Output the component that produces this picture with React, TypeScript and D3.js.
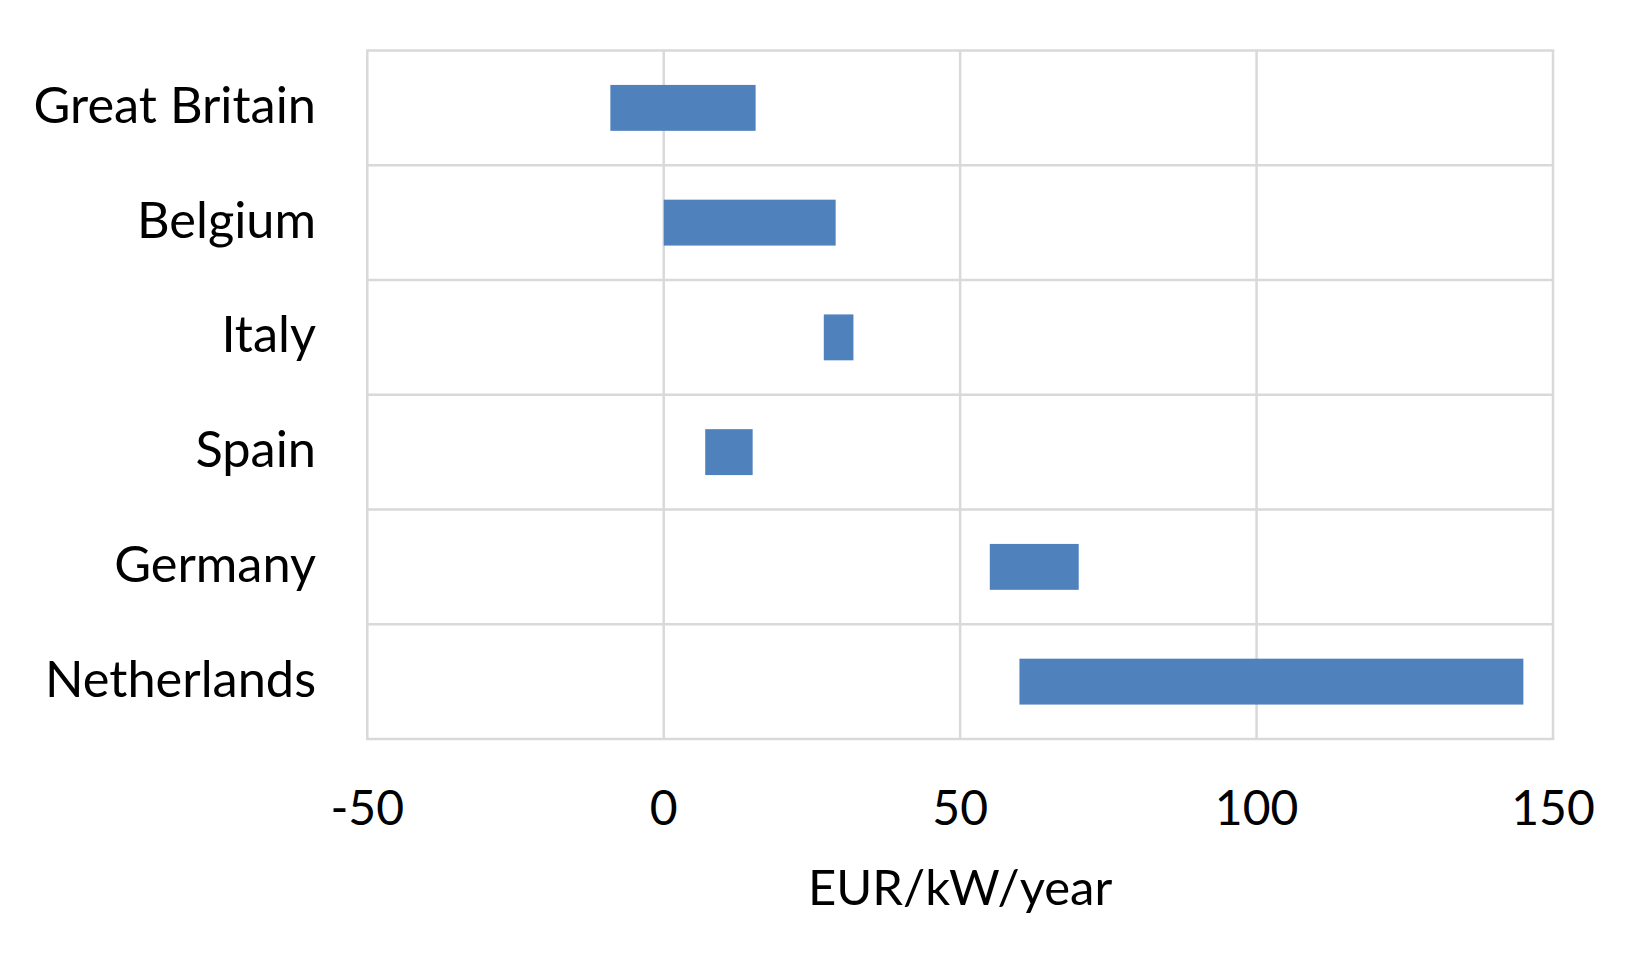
import * as React from 'react'
import * as d3 from 'd3'

const countries = ['Great Britain', 'Belgium', 'Italy', 'Spain', 'Germany', 'Netherlands']
const lowValues = [-9, 0, 27, 7, 55, 60]
const highValues = [15.5, 29, 32, 15, 70, 145]
const xTicks = [-50, 0, 50, 100, 150]
const axisTitle = 'EUR/kW/year'

const W = 1644
const H = 979
const FONT = 'Lato, "Open Sans", sans-serif'

export default function App() {
  const svgRef = React.useRef<SVGSVGElement>(null)

  React.useEffect(() => {
    if (!svgRef.current) return
    const svg = d3.select(svgRef.current)
    svg.selectAll('*').remove()

    const left = 367.3
    const right = 1553
    const top = 50.5
    const bottom = 739

    const x = d3.scaleLinear().domain([-50, 150]).range([left, right])
    const y = d3
      .scaleBand<string>()
      .domain(countries)
      .range([top, bottom])
      .paddingInner(0.6)
      .paddingOuter(0.3)
    const step = y.step()
    const grid = '#d9d9d9'

    // vertical gridlines at ticks
    svg
      .append('g')
      .selectAll('line')
      .data(xTicks)
      .join('line')
      .attr('x1', (d) => x(d))
      .attr('x2', (d) => x(d))
      .attr('y1', top)
      .attr('y2', bottom)
      .attr('stroke', grid)
      .attr('stroke-width', 2.5)

    // horizontal lines at category boundaries
    const bounds = d3.range(countries.length + 1).map((i) => top + i * step)
    svg
      .append('g')
      .selectAll('line')
      .data(bounds)
      .join('line')
      .attr('x1', left - 1.25)
      .attr('x2', right + 1.25)
      .attr('y1', (d) => d)
      .attr('y2', (d) => d)
      .attr('stroke', grid)
      .attr('stroke-width', 2.5)

    // floating bars
    svg
      .append('g')
      .selectAll('rect')
      .data(countries)
      .join('rect')
      .attr('x', (_, i) => x(lowValues[i]))
      .attr('width', (_, i) => x(highValues[i]) - x(lowValues[i]))
      .attr('y', (d) => y(d)!)
      .attr('height', y.bandwidth())
      .attr('fill', '#4f81bd')

    // category labels
    svg
      .append('g')
      .selectAll('text')
      .data(countries)
      .join('text')
      .attr('x', 316)
      .attr('y', (d) => y(d)! + y.bandwidth() / 2 + 15)
      .attr('text-anchor', 'end')
      .attr('font-family', FONT)
      .attr('font-size', 50.5)
      .attr('fill', '#000')
      .text((d) => d)

    // tick labels
    svg
      .append('g')
      .selectAll('text')
      .data(xTicks)
      .join('text')
      .attr('x', (d) => x(d))
      .attr('y', 825)
      .attr('text-anchor', 'middle')
      .attr('font-family', FONT)
      .attr('font-size', 48)
      .attr('fill', '#000')
      .text((d) => String(d))

    svg
      .append('text')
      .attr('x', (left + right) / 2)
      .attr('y', 905)
      .attr('text-anchor', 'middle')
      .attr('font-family', FONT)
      .attr('font-size', 49)
      .attr('fill', '#000')
      .text(axisTitle)
  }, [])

  return (
    <div style={{ position: 'absolute', left: 0, top: 0, width: W, height: H, background: '#fff' }}>
      <svg ref={svgRef} width={W} height={H} style={{ display: 'block' }} />
    </div>
  )
}
